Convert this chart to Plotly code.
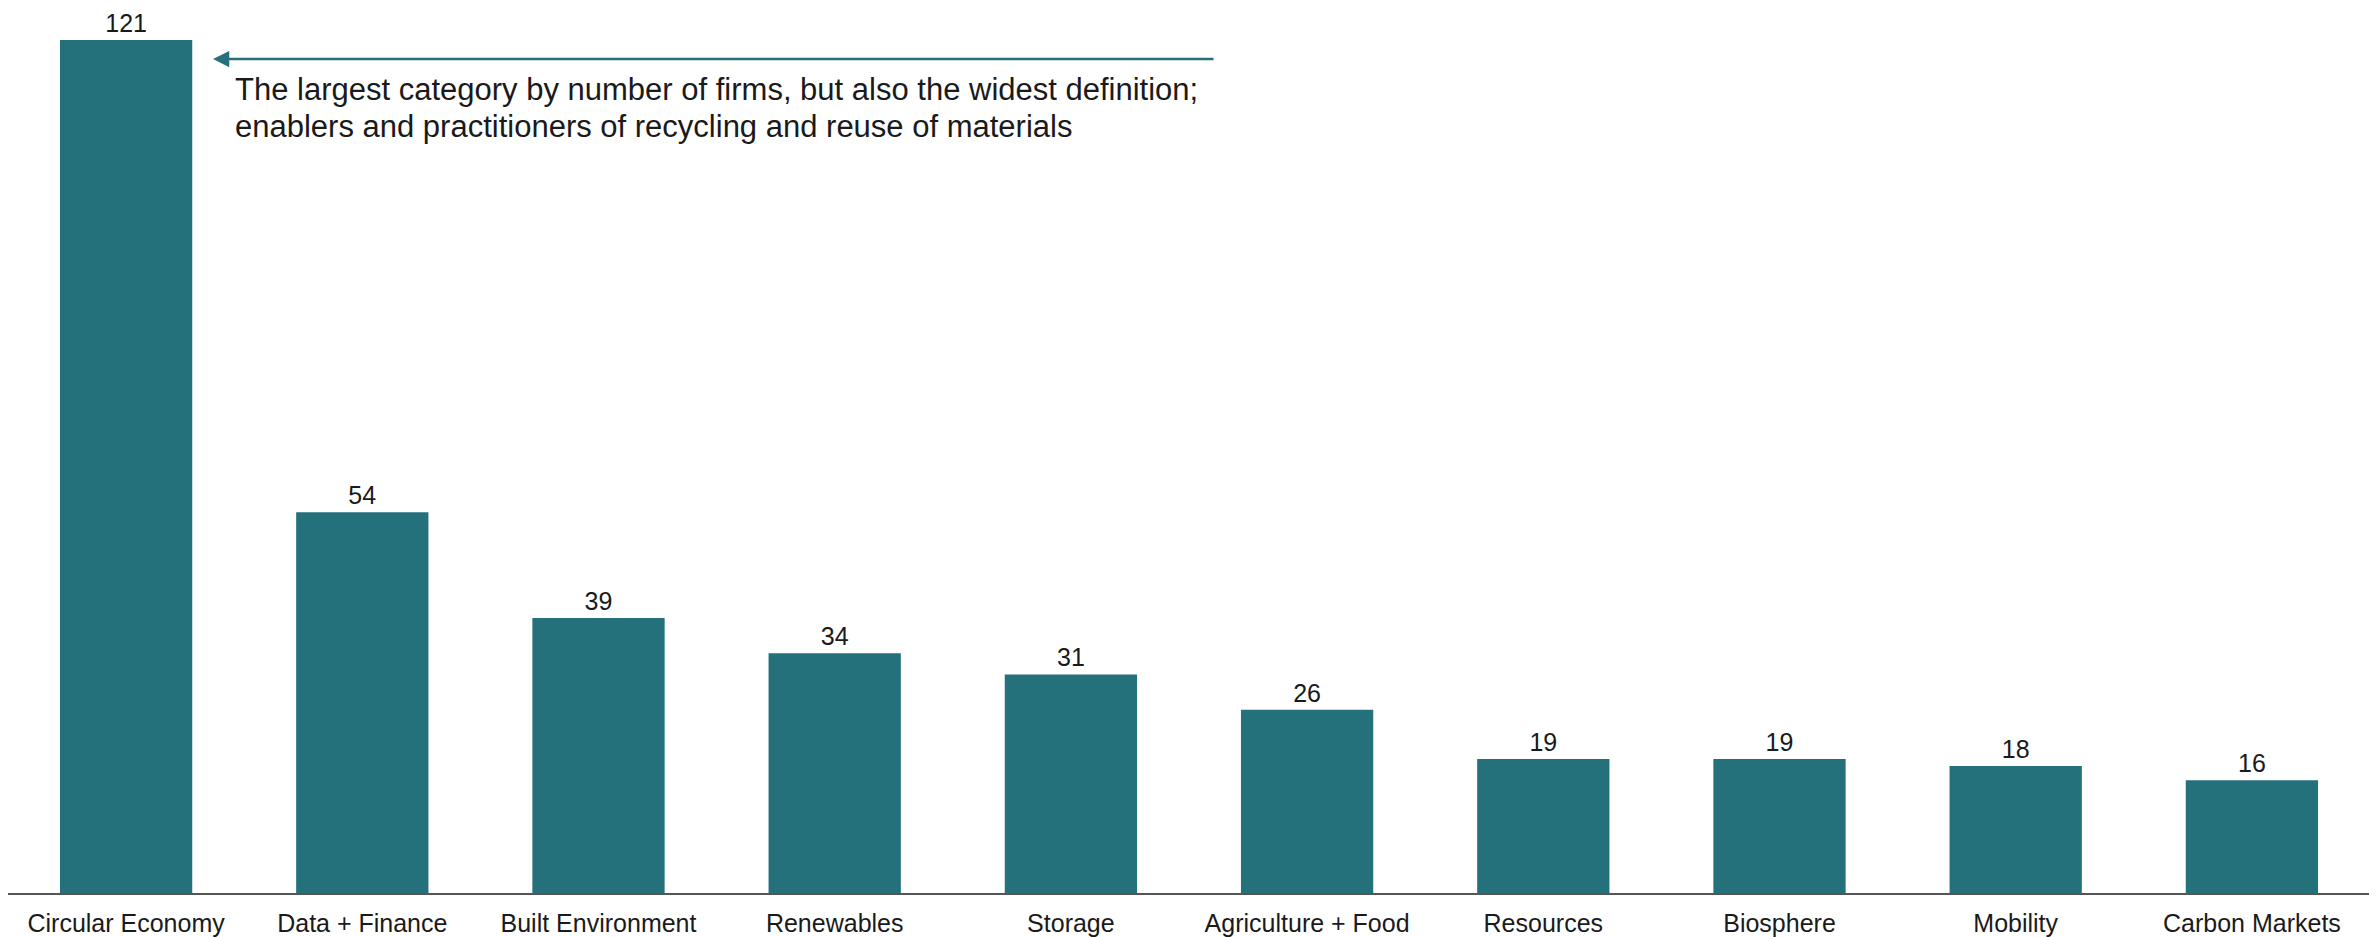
import plotly.graph_objects as go

categories = ["Circular Economy", "Data + Finance", "Built Environment", "Renewables", "Storage",
              "Agriculture + Food", "Resources", "Biosphere", "Mobility", "Carbon Markets"]
values = [121, 54, 39, 34, 31, 26, 19, 19, 18, 16]
note_lines = ["The largest category by number of firms, but also the widest definition;",
              "enablers and practitioners of recycling and reuse of materials"]

TEAL = "#24717C"
FONT = "Liberation Sans, Arial, sans-serif"
TXT = "#1a1a1a"

fig = go.Figure(go.Bar(
    x=categories, y=values, marker=dict(color=TEAL, line=dict(width=0)),
    text=[str(v) for v in values], textposition="outside", cliponaxis=False,
    textfont=dict(size=25, color=TXT, family=FONT),
))

# arrow
fig.add_annotation(x=0.368, y=118.3, xref="x", yref="y", ax=4.61, ay=118.3, axref="x", ayref="y",
                   text="", showarrow=True, arrowhead=2, arrowsize=1.3, arrowwidth=2.5,
                   arrowcolor=TEAL)
for line, yv in zip(note_lines, [114.0, 108.7]):
    fig.add_annotation(x=0.453, y=yv, xref="x", yref="y", text=line, showarrow=False,
                       xanchor="left", yanchor="middle",
                       font=dict(size=31, color=TXT, family=FONT))

fig.update_layout(
    width=2369, height=929, plot_bgcolor="white", paper_bgcolor="white",
    margin=dict(l=0, r=7, t=32, b=40), bargap=0.44, showlegend=False,
    font=dict(family=FONT, size=25, color=TXT),
)
fig.update_xaxes(showline=True, linecolor="#555555", linewidth=2, showgrid=False,
                 ticks="", ticklabelstandoff=7,
                 tickfont=dict(size=25, color=TXT, family=FONT), tickangle=0)
fig.update_yaxes(range=[0, 121], visible=False, showgrid=False, zeroline=False)

fig.write_html("out.html")
